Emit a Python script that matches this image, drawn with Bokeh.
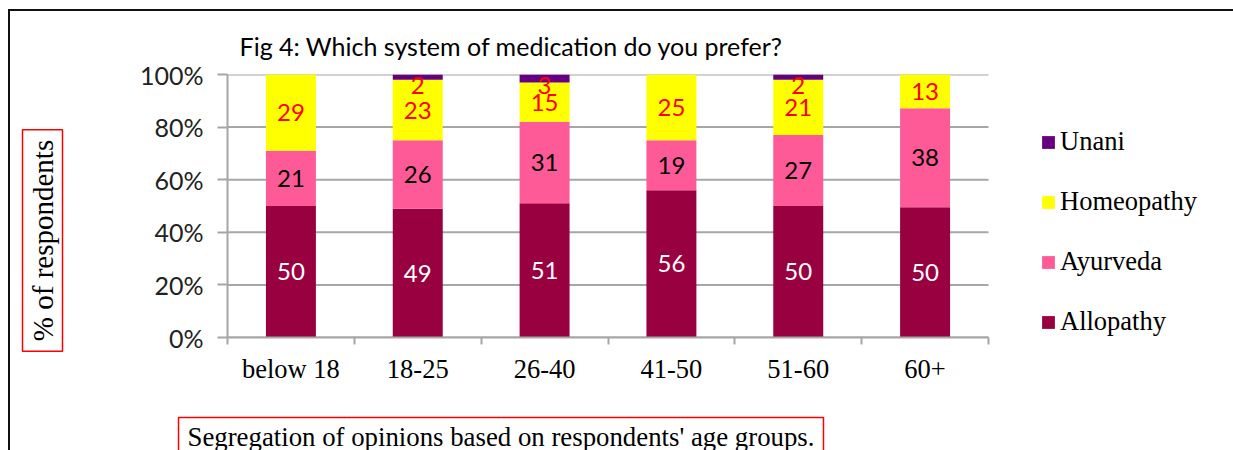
import numpy as np
from bokeh.plotting import figure
from bokeh.models import (ColumnDataSource, FixedTicker, PrintfTickFormatter, Label,
                          Legend, LegendItem, Range1d)
from bokeh.core.properties import value
from bokeh.embed import file_html
from bokeh.resources import INLINE

# ---- data ----
categories = ["below 18", "18-25", "26-40", "41-50", "51-60", "60+"]
allopathy = [50, 49, 51, 56, 50, 50]
ayurveda = [21, 26, 31, 19, 27, 38]
homeopathy = [29, 23, 15, 25, 21, 13]
unani = [0, 2, 3, 0, 2, 0]
series_names = ["Allopathy", "Ayurveda", "Homeopathy", "Unani"]
series_values = [allopathy, ayurveda, homeopathy, unani]
series_colors = ["#990040", "#FF5A98", "#FFFF00", "#660080"]
label_colors = ["white", "black", "red", "red"]
y_ticks = [0, 20, 40, 60, 80, 100]
title_text = "Fig 4: Which system of medication do you prefer?"
y_title = "% of respondents"
caption = "Segregation of opinions based on respondents' age groups."

# ---- layout (canvas px) ----
W, H = 1233, 450
PL, PR, FT, FB = 227, 988, 74, 337   # plot-area edges; frame itself runs to W

n = len(categories)
x_end = n * (W - PL) / (PR - PL)    # frame extends right to hold the legend
xs = [i + 0.5 for i in range(n)]
vals = np.array(series_values, dtype=float)
totals = vals.sum(axis=0)
pct = vals / totals * 100.0

src = ColumnDataSource(dict(x=xs, **{nm: pct[i] for i, nm in enumerate(series_names)}))

p = figure(width=W, height=H, output_backend="svg", toolbar_location=None,
           x_range=Range1d(0, x_end), y_range=Range1d(0, 100),
           min_border_left=PL, min_border_right=0,
           min_border_top=FT, min_border_bottom=H - FB)
p.outline_line_color = None
p.background_fill_color = "white"
p.border_fill_alpha = 0
# outer page frame (top and left black rules of the document box)
p.styles = {
    "background-color": "white",
    "background-image": "linear-gradient(#111,#111), linear-gradient(#111,#111)",
    "background-position": "8px 9px, 8px 9px",
    "background-size": "1400px 2px, 2px 600px",
    "background-repeat": "no-repeat",
}

grid_color = "#A6A6A6"
p.xgrid.visible = False
p.ygrid.visible = False
# horizontal gridlines limited to the plot area (0..n)
p.segment(x0=[0] * len(y_ticks), x1=[n] * len(y_ticks), y0=y_ticks, y1=y_ticks,
          line_color=grid_color, line_width=2, level="underlay")

renderers = p.vbar_stack(series_names, x="x", width=0.394, source=src,
                         fill_color=series_colors, line_color=None)

# data labels
bottoms = np.vstack([np.zeros(n), np.cumsum(pct, axis=0)[:-1]])
tops = np.cumsum(pct, axis=0)
for i, nm in enumerate(series_names):
    lx, ly, lt = [], [], []
    for j in range(n):
        if vals[i, j] <= 0:
            continue
        lx.append(xs[j])
        lt.append(str(int(vals[i, j])))
        ly.append(tops[i, j] if nm == "Unani" else (bottoms[i, j] + tops[i, j]) / 2)
    p.text(x=lx, y=ly, text=lt, text_font=value("Lato"), text_font_size="24px",
           text_color=label_colors[i], text_align="center",
           text_baseline="top" if nm == "Unani" else "middle",
           y_offset=2 if nm == "Unani" else 0)

# axes
p.yaxis.ticker = FixedTicker(ticks=y_ticks)
p.yaxis.formatter = PrintfTickFormatter(format="%d%%")
p.yaxis.axis_line_color = grid_color
p.yaxis.axis_line_width = 2
p.yaxis.major_tick_line_color = grid_color
p.yaxis.major_tick_line_width = 2
p.yaxis.major_tick_out = 10
p.yaxis.major_tick_in = 0
p.yaxis.minor_tick_line_color = None
p.yaxis.major_label_text_font = "Lato"
p.yaxis.major_label_text_font_size = "25px"
p.yaxis.major_label_text_color = "#222222"
p.yaxis.major_label_standoff = 14

p.xaxis.bounds = (0, n)
p.xaxis.ticker = FixedTicker(ticks=xs, minor_ticks=list(range(n + 1)))
p.xaxis.major_label_overrides = {x: c for x, c in zip(xs, categories)}
p.xaxis.axis_line_color = grid_color
p.xaxis.axis_line_width = 2
p.xaxis.major_tick_line_color = None
p.xaxis.major_tick_out = 0
p.xaxis.major_tick_in = 0
p.xaxis.minor_tick_line_color = grid_color
p.xaxis.minor_tick_line_width = 2
p.xaxis.minor_tick_out = 7
p.xaxis.minor_tick_in = 0
p.xaxis.major_label_text_font = "Liberation Serif"
p.xaxis.major_label_text_font_size = "26.5px"
p.xaxis.major_label_text_color = "black"
p.xaxis.major_label_standoff = 9

# legend inside the (extended) frame, right of the plot area
items = [LegendItem(label=nm, renderers=[r]) for nm, r in zip(series_names, renderers)][::-1]
legend = Legend(items=items, location=(1040 - PL, 0), orientation="vertical",
                glyph_width=16, glyph_height=16, label_height=31, spacing=29,
                padding=0, margin=0, label_standoff=4,
                label_text_font="Liberation Serif", label_text_font_size="26.5px",
                label_text_color="black", background_fill_alpha=0,
                border_line_color=None)
p.add_layout(legend)

# free texts in canvas units, placed in side panels so they are not clipped
p.add_layout(Label(x=511, y=45, x_units="canvas", y_units="canvas",
                   text=title_text, text_font="Lato", text_font_size="25px",
                   text_color="black", text_align="center", text_baseline="middle"), "above")

p.add_layout(Label(x=42, y=240, x_units="canvas", y_units="canvas",
                   text=y_title, text_font="Liberation Serif", text_font_size="29px",
                   text_color="black", angle=np.pi / 2, text_align="center",
                   text_baseline="middle", border_line_color="red",
                   border_line_width=1.5, padding=dict(left=10, right=10, top=4, bottom=4)), "left")

p.add_layout(Label(x=178, y=436, x_units="canvas", y_units="canvas",
                   text=caption, text_font="Liberation Serif", text_font_size="26.8px",
                   text_color="black", text_align="left",
                   text_baseline="middle", border_line_color="red",
                   border_line_width=1.5, padding=dict(left=9, right=9, top=4, bottom=4)), "below")

open("out.html", "w").write(file_html(p, INLINE))
